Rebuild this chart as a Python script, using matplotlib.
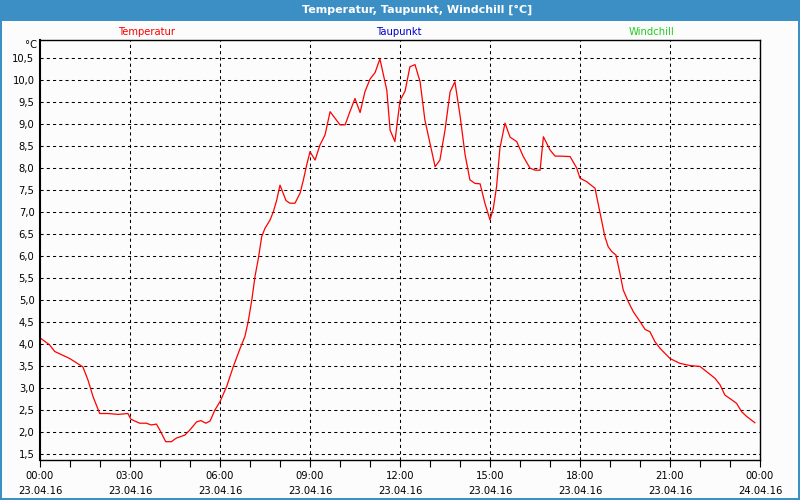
import matplotlib.pyplot as plt
from matplotlib.patches import Rectangle
import numpy as np

# hours since 23.04.16 00:00 and temperature in degC
hours = [0.00, 0.32, 0.49, 0.99, 1.43, 1.60, 1.77, 1.99, 2.27, 2.60,
         2.93, 3.03, 3.32, 3.54, 3.71, 3.88, 3.99, 4.19, 4.38, 4.54,
         4.83, 5.00, 5.22, 5.36, 5.53, 5.67, 5.83, 6.00, 6.22, 6.44,
         6.67, 6.83, 6.94, 7.06, 7.17, 7.28, 7.39, 7.50, 7.67, 7.78,
         7.89, 8.00, 8.20, 8.33, 8.50, 8.67, 8.78, 8.89, 9.00, 9.17,
         9.33, 9.50, 9.67, 10.00, 10.17, 10.33, 10.50, 10.67, 10.83, 11.00,
         11.17, 11.33, 11.56, 11.67, 11.83, 12.00, 12.17, 12.33, 12.50, 12.67,
         12.83, 13.00, 13.17, 13.33, 13.50, 13.67, 13.83, 14.00, 14.17, 14.33,
         14.50, 14.67, 14.83, 15.00, 15.11, 15.22, 15.33, 15.50, 15.67, 15.89,
         16.11, 16.33, 16.50, 16.67, 16.78, 17.00, 17.17, 17.33, 17.67, 17.89,
         18.00, 18.22, 18.50, 18.67, 18.83, 18.94, 19.06, 19.20, 19.33, 19.44,
         19.61, 19.78, 20.00, 20.17, 20.33, 20.50, 20.67, 20.83, 21.00, 21.33,
         21.67, 22.00, 22.22, 22.50, 22.67, 22.83, 23.06, 23.22, 23.39, 23.56,
         23.83]
temp = [4.14, 3.98, 3.83, 3.67, 3.48, 3.18, 2.80, 2.42, 2.42, 2.40,
        2.42, 2.29, 2.20, 2.20, 2.16, 2.18, 2.05, 1.78, 1.78, 1.86,
        1.93, 2.05, 2.23, 2.26, 2.20, 2.25, 2.50, 2.69, 3.03, 3.48,
        3.90, 4.17, 4.51, 5.00, 5.55, 5.95, 6.44, 6.63, 6.82, 7.01,
        7.27, 7.61, 7.26, 7.20, 7.20, 7.43, 7.73, 8.07, 8.37, 8.18,
        8.52, 8.75, 9.28, 8.98, 8.98, 9.28, 9.58, 9.26, 9.73, 10.02,
        10.17, 10.48, 9.77, 8.86, 8.60, 9.53, 9.75, 10.30, 10.35, 9.96,
        9.09, 8.56, 8.03, 8.18, 8.86, 9.73, 9.96, 9.20, 8.30, 7.73,
        7.65, 7.64, 7.20, 6.82, 7.08, 7.58, 8.45, 9.02, 8.70, 8.60,
        8.26, 8.00, 7.95, 7.95, 8.71, 8.41, 8.27, 8.27, 8.26, 8.00,
        7.77, 7.69, 7.54, 6.97, 6.44, 6.21, 6.10, 6.02, 5.61, 5.23,
        4.96, 4.73, 4.51, 4.33, 4.28, 4.05, 3.90, 3.79, 3.67, 3.56,
        3.51, 3.49, 3.37, 3.22, 3.07, 2.84, 2.73, 2.65, 2.46, 2.35,
        2.21]

tick_hours = [0, 3, 6, 9, 12, 15, 18, 21, 24]
tick_labels = ['00:00\n23.04.16', '03:00\n23.04.16', '06:00\n23.04.16',
               '09:00\n23.04.16', '12:00\n23.04.16', '15:00\n23.04.16',
               '18:00\n23.04.16', '21:00\n23.04.16', '00:00\n24.04.16']
y_ticks = [1.5, 2.0, 2.5, 3.0, 3.5, 4.0, 4.5, 5.0, 5.5, 6.0,
           6.5, 7.0, 7.5, 8.0, 8.5, 9.0, 9.5, 10.0, 10.5]

W, H = 800, 500
fig = plt.figure(figsize=(8, 5), dpi=100)
fig.patch.set_facecolor('#3c8fc4')
# white inner panel below the blue title bar
fig.add_artist(Rectangle((2 / W, 2 / H), 796 / W, 477 / H,
                         transform=fig.transFigure, facecolor='#fcfcfc',
                         edgecolor='none', zorder=0))

fig.text(417 / W, 1 - 10 / H, 'Temperatur, Taupunkt, Windchill [°C]',
         color='white', fontweight='bold', fontsize=8, ha='center', va='center')

fig.text(147 / W, 1 - 32 / H, 'Temperatur', color='red', fontsize=7.2,
         ha='center', va='center')
fig.text(399 / W, 1 - 32 / H, 'Taupunkt', color='#0000cc', fontsize=7.2,
         ha='center', va='center')
fig.text(652 / W, 1 - 32 / H, 'Windchill', color='#22cc22', fontsize=7.2,
         ha='center', va='center')
fig.text(37 / W, 1 - 45 / H, '°C', fontsize=7.2, ha='right', va='center')

ax = fig.add_axes([40 / W, 40 / H, 720 / W, 420 / H])
ax.set_facecolor('#fcfcfc')
ax.plot(hours, temp, color='red', lw=0.9)

ax.set_xlim(0, 24)
ax.set_ylim(1.5 - 6 / 44, 10.5 + 18 / 44)

ax.set_xticks(tick_hours)
ax.set_xticklabels(tick_labels, fontsize=7.2, linespacing=1.6)
ax.set_xticks(range(0, 25), minor=True)
ax.set_yticks(y_ticks)
ax.set_yticklabels([f'{v:.1f}'.replace('.', ',') for v in y_ticks], fontsize=7.2)

ax.tick_params(axis='x', which='both', direction='out', length=5, width=0.8, pad=3)
ax.tick_params(axis='y', length=0, pad=4)
ax.grid(True, which='major', color='black', linestyle=(0, (3, 3)), lw=0.75)

for s in ax.spines.values():
    s.set_linewidth(1.0)
ax.spines['left'].set_linewidth(1.5)

fig.savefig('out.png', dpi=100, facecolor=fig.get_facecolor())
